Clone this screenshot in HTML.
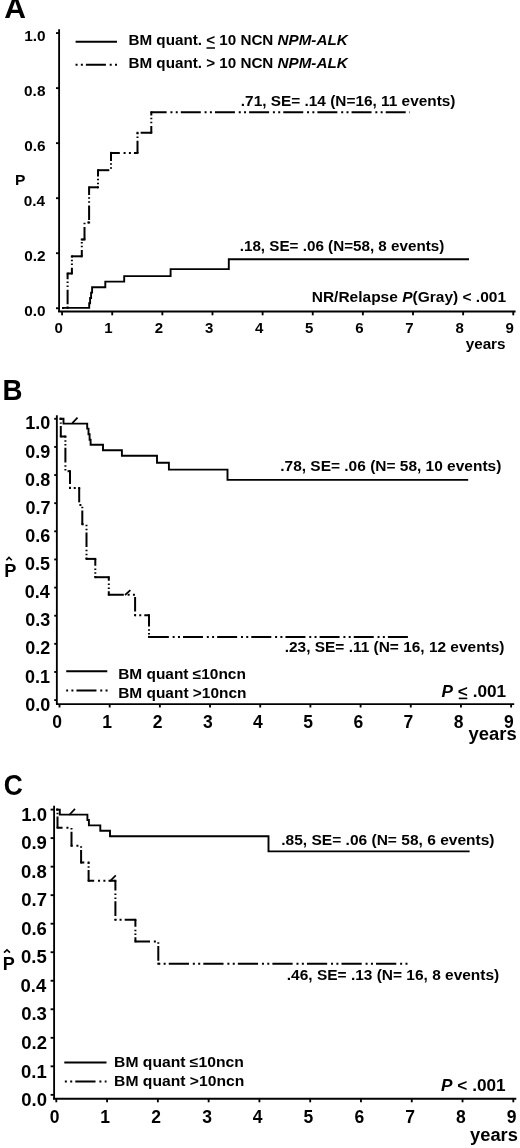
<!DOCTYPE html>
<html><head><meta charset="utf-8"><style>
html,body{margin:0;padding:0;background:#fff;}
svg{display:block;will-change:transform;}
text{font-family:"Liberation Sans",sans-serif;fill:#000;}
</style></head><body>
<svg width="520" height="1148" viewBox="0 0 520 1148">
<rect width="520" height="1148" fill="#fff"/>
<g stroke="#000" fill="none" stroke-linecap="butt">
<line x1="59.10" y1="29.30" x2="59.10" y2="312.00" stroke-width="1.85"/>
<line x1="56.00" y1="33.10" x2="59.10" y2="33.10" stroke-width="1.85"/>
<line x1="56.00" y1="88.13" x2="59.10" y2="88.13" stroke-width="1.85"/>
<line x1="56.00" y1="143.16" x2="59.10" y2="143.16" stroke-width="1.85"/>
<line x1="56.00" y1="198.19" x2="59.10" y2="198.19" stroke-width="1.85"/>
<line x1="56.00" y1="253.22" x2="59.10" y2="253.22" stroke-width="1.85"/>
<line x1="56.00" y1="308.25" x2="59.10" y2="308.25" stroke-width="1.85"/>
<line x1="58.10" y1="311.50" x2="515.60" y2="311.50" stroke-width="1.85"/>
<line x1="62.10" y1="311.50" x2="62.10" y2="315.30" stroke-width="1.85"/>
<line x1="112.23" y1="311.50" x2="112.23" y2="315.30" stroke-width="1.85"/>
<line x1="162.36" y1="311.50" x2="162.36" y2="315.30" stroke-width="1.85"/>
<line x1="212.49" y1="311.50" x2="212.49" y2="315.30" stroke-width="1.85"/>
<line x1="262.62" y1="311.50" x2="262.62" y2="315.30" stroke-width="1.85"/>
<line x1="312.75" y1="311.50" x2="312.75" y2="315.30" stroke-width="1.85"/>
<line x1="362.88" y1="311.50" x2="362.88" y2="315.30" stroke-width="1.85"/>
<line x1="413.01" y1="311.50" x2="413.01" y2="315.30" stroke-width="1.85"/>
<line x1="463.14" y1="311.50" x2="463.14" y2="315.30" stroke-width="1.85"/>
<line x1="513.27" y1="311.50" x2="513.27" y2="315.30" stroke-width="1.85"/>
<line x1="75.60" y1="41.70" x2="117.00" y2="41.70" stroke-width="2"/>
<line x1="206.50" y1="48.00" x2="215.00" y2="48.00" stroke-width="1.5"/>
<line x1="75.30" y1="64.80" x2="117.50" y2="64.80" stroke-width="2" stroke-dasharray="20.000 3.800 2.000 3.300 2.000 3.050" stroke-dashoffset="23.550"/>
<path d="M62.00,307.90 L89.20,307.90 L89.20,303.30 L90.10,303.30 L90.10,298.00 L91.10,298.00 L91.10,292.60 L92.10,292.60 L92.10,287.20 L105.30,287.20 L105.30,281.60 L124.20,281.60 L124.20,276.10 L170.60,276.10 L170.60,269.10 L228.80,269.10 L228.80,259.20 L469.00,259.20" stroke-width="1.9" fill="none" stroke-linejoin="miter"/>
<line x1="62.00" y1="307.90" x2="67.60" y2="307.90" stroke-width="2" stroke-dasharray="20.000 3.800 2.000 3.300 2.000 3.050" stroke-dashoffset="23.650"/>
<line x1="67.60" y1="307.90" x2="67.60" y2="273.50" stroke-width="2" stroke-dasharray="14.640 2.782 1.464 2.416 1.464 2.233" stroke-dashoffset="21.411"/>
<line x1="67.60" y1="273.50" x2="71.90" y2="273.50" stroke-width="2" stroke-dasharray="20.000 3.800 2.000 3.300 2.000 3.050" stroke-dashoffset="7.945"/>
<line x1="71.90" y1="273.50" x2="71.90" y2="256.30" stroke-width="2" stroke-dasharray="14.640 2.782 1.464 2.416 1.464 2.233" stroke-dashoffset="8.963"/>
<line x1="71.90" y1="256.30" x2="81.80" y2="256.30" stroke-width="2" stroke-dasharray="20.000 3.800 2.000 3.300 2.000 3.050" stroke-dashoffset="1.592"/>
<line x1="81.80" y1="256.30" x2="81.80" y2="239.50" stroke-width="2" stroke-dasharray="14.640 2.782 1.464 2.416 1.464 2.233" stroke-dashoffset="8.412"/>
<line x1="81.80" y1="239.50" x2="84.50" y2="239.50" stroke-width="2" stroke-dasharray="20.000 3.800 2.000 3.300 2.000 3.050" stroke-dashoffset="0.293"/>
<line x1="84.50" y1="239.50" x2="84.50" y2="222.50" stroke-width="2" stroke-dasharray="14.640 2.782 1.464 2.416 1.464 2.233" stroke-dashoffset="2.191"/>
<line x1="84.50" y1="222.50" x2="89.10" y2="222.50" stroke-width="2" stroke-dasharray="20.000 3.800 2.000 3.300 2.000 3.050" stroke-dashoffset="26.217"/>
<line x1="89.10" y1="222.50" x2="89.10" y2="187.30" stroke-width="2" stroke-dasharray="14.640 2.782 1.464 2.416 1.464 2.233" stroke-dashoffset="22.558"/>
<line x1="89.10" y1="187.30" x2="98.00" y2="187.30" stroke-width="2" stroke-dasharray="20.000 3.800 2.000 3.300 2.000 3.050" stroke-dashoffset="10.604"/>
<line x1="98.00" y1="187.30" x2="98.00" y2="170.20" stroke-width="2" stroke-dasharray="14.640 2.782 1.464 2.416 1.464 2.233" stroke-dashoffset="14.277"/>
<line x1="98.00" y1="170.20" x2="111.00" y2="170.20" stroke-width="2" stroke-dasharray="20.000 3.800 2.000 3.300 2.000 3.050" stroke-dashoffset="8.715"/>
<line x1="111.00" y1="170.20" x2="111.00" y2="152.90" stroke-width="2" stroke-dasharray="14.640 2.782 1.464 2.416 1.464 2.233" stroke-dashoffset="15.895"/>
<line x1="111.00" y1="152.90" x2="137.50" y2="152.90" stroke-width="2" stroke-dasharray="20.000 3.800 2.000 3.300 2.000 3.050" stroke-dashoffset="11.199"/>
<line x1="137.50" y1="152.90" x2="137.50" y2="132.80" stroke-width="2" stroke-dasharray="14.640 2.782 1.464 2.416 1.464 2.233" stroke-dashoffset="2.598"/>
<line x1="137.50" y1="132.80" x2="151.30" y2="132.80" stroke-width="2" stroke-dasharray="20.000 3.800 2.000 3.300 2.000 3.050" stroke-dashoffset="31.008"/>
<line x1="151.30" y1="132.80" x2="151.30" y2="112.20" stroke-width="2" stroke-dasharray="14.640 2.782 1.464 2.416 1.464 2.233" stroke-dashoffset="7.802"/>
<line x1="151.30" y1="112.20" x2="410.00" y2="112.20" stroke-width="2" stroke-dasharray="20.000 3.800 2.000 3.300 2.000 3.050" stroke-dashoffset="4.650"/>
<rect x="66.60" y="306.90" width="2" height="2" fill="#000" stroke="none"/>
<rect x="66.60" y="272.50" width="2" height="2" fill="#000" stroke="none"/>
<rect x="70.90" y="272.50" width="2" height="2" fill="#000" stroke="none"/>
<rect x="70.90" y="255.30" width="2" height="2" fill="#000" stroke="none"/>
<rect x="80.80" y="255.30" width="2" height="2" fill="#000" stroke="none"/>
<rect x="80.80" y="238.50" width="2" height="2" fill="#000" stroke="none"/>
<rect x="83.50" y="238.50" width="2" height="2" fill="#000" stroke="none"/>
<rect x="88.10" y="221.50" width="2" height="2" fill="#000" stroke="none"/>
<rect x="88.10" y="186.30" width="2" height="2" fill="#000" stroke="none"/>
<rect x="97.00" y="186.30" width="2" height="2" fill="#000" stroke="none"/>
<rect x="97.00" y="169.20" width="2" height="2" fill="#000" stroke="none"/>
<rect x="110.00" y="151.90" width="2" height="2" fill="#000" stroke="none"/>
<rect x="136.50" y="151.90" width="2" height="2" fill="#000" stroke="none"/>
<rect x="136.50" y="131.80" width="2" height="2" fill="#000" stroke="none"/>
<rect x="150.30" y="131.80" width="2" height="2" fill="#000" stroke="none"/>
<rect x="150.30" y="111.20" width="2" height="2" fill="#000" stroke="none"/>
<line x1="56.85" y1="415.20" x2="56.85" y2="704.60" stroke-width="1.85"/>
<line x1="54.20" y1="418.80" x2="56.85" y2="418.80" stroke-width="1.85"/>
<line x1="54.20" y1="446.93" x2="56.85" y2="446.93" stroke-width="1.85"/>
<line x1="54.20" y1="475.06" x2="56.85" y2="475.06" stroke-width="1.85"/>
<line x1="54.20" y1="503.19" x2="56.85" y2="503.19" stroke-width="1.85"/>
<line x1="54.20" y1="531.32" x2="56.85" y2="531.32" stroke-width="1.85"/>
<line x1="54.20" y1="559.45" x2="56.85" y2="559.45" stroke-width="1.85"/>
<line x1="54.20" y1="587.58" x2="56.85" y2="587.58" stroke-width="1.85"/>
<line x1="54.20" y1="615.71" x2="56.85" y2="615.71" stroke-width="1.85"/>
<line x1="54.20" y1="643.84" x2="56.85" y2="643.84" stroke-width="1.85"/>
<line x1="54.20" y1="671.97" x2="56.85" y2="671.97" stroke-width="1.85"/>
<line x1="54.20" y1="700.10" x2="56.85" y2="700.10" stroke-width="1.85"/>
<line x1="56.00" y1="704.10" x2="514.20" y2="704.10" stroke-width="1.85"/>
<line x1="59.50" y1="704.10" x2="59.50" y2="707.50" stroke-width="1.85"/>
<line x1="109.68" y1="704.10" x2="109.68" y2="707.50" stroke-width="1.85"/>
<line x1="159.86" y1="704.10" x2="159.86" y2="707.50" stroke-width="1.85"/>
<line x1="210.04" y1="704.10" x2="210.04" y2="707.50" stroke-width="1.85"/>
<line x1="260.22" y1="704.10" x2="260.22" y2="707.50" stroke-width="1.85"/>
<line x1="310.40" y1="704.10" x2="310.40" y2="707.50" stroke-width="1.85"/>
<line x1="360.58" y1="704.10" x2="360.58" y2="707.50" stroke-width="1.85"/>
<line x1="410.76" y1="704.10" x2="410.76" y2="707.50" stroke-width="1.85"/>
<line x1="460.94" y1="704.10" x2="460.94" y2="707.50" stroke-width="1.85"/>
<line x1="511.12" y1="704.10" x2="511.12" y2="707.50" stroke-width="1.85"/>
<path d="M6.30,560.20 L9.00,557.40 L11.80,560.20" stroke-width="1.6" fill="none" stroke-linejoin="miter"/>
<line x1="66.20" y1="671.30" x2="107.30" y2="671.30" stroke-width="2"/>
<line x1="66.20" y1="690.40" x2="107.60" y2="690.40" stroke-width="2" stroke-dasharray="20.000 3.800 2.000 3.300 2.000 3.050" stroke-dashoffset="23.900"/>
<line x1="458.80" y1="698.40" x2="467.30" y2="698.40" stroke-width="1.6"/>
<path d="M59.50,418.80 L63.50,418.80 L63.50,423.60 L87.20,423.60 L87.20,428.60 L88.50,428.60 L88.50,434.20 L89.60,434.20 L89.60,439.70 L90.60,439.70 L90.60,444.70 L103.00,444.70 L103.00,450.20 L121.90,450.20 L121.90,455.80 L157.00,455.80 L157.00,462.80 L168.90,462.80 L168.90,469.60 L227.50,469.60 L227.50,479.90 L468.20,479.90" stroke-width="1.9" fill="none" stroke-linejoin="miter"/>
<line x1="59.50" y1="418.80" x2="60.80" y2="418.80" stroke-width="2" stroke-dasharray="20.000 3.800 2.000 3.300 2.000 3.050" stroke-dashoffset="22.906"/>
<line x1="60.80" y1="418.80" x2="60.80" y2="436.50" stroke-width="2" stroke-dasharray="14.660 2.785 1.466 2.419 1.466 2.236" stroke-dashoffset="17.743"/>
<line x1="60.80" y1="436.50" x2="65.40" y2="436.50" stroke-width="2" stroke-dasharray="20.000 3.800 2.000 3.300 2.000 3.050" stroke-dashoffset="14.203"/>
<line x1="65.40" y1="436.50" x2="65.40" y2="471.20" stroke-width="2" stroke-dasharray="14.660 2.785 1.466 2.419 1.466 2.236" stroke-dashoffset="13.783"/>
<line x1="65.40" y1="471.20" x2="70.00" y2="471.20" stroke-width="2" stroke-dasharray="20.000 3.800 2.000 3.300 2.000 3.050" stroke-dashoffset="31.993"/>
<line x1="70.00" y1="471.20" x2="70.00" y2="488.00" stroke-width="2" stroke-dasharray="14.660 2.785 1.466 2.419 1.466 2.236" stroke-dashoffset="1.790"/>
<line x1="70.00" y1="488.00" x2="79.20" y2="488.00" stroke-width="2" stroke-dasharray="20.000 3.800 2.000 3.300 2.000 3.050" stroke-dashoffset="25.362"/>
<line x1="79.20" y1="488.00" x2="79.20" y2="505.00" stroke-width="2" stroke-dasharray="14.660 2.785 1.466 2.419 1.466 2.236" stroke-dashoffset="0.302"/>
<line x1="79.20" y1="505.00" x2="82.30" y2="505.00" stroke-width="2" stroke-dasharray="20.000 3.800 2.000 3.300 2.000 3.050" stroke-dashoffset="23.605"/>
<line x1="82.30" y1="505.00" x2="82.30" y2="524.20" stroke-width="2" stroke-dasharray="14.660 2.785 1.466 2.419 1.466 2.236" stroke-dashoffset="19.574"/>
<line x1="82.30" y1="524.20" x2="86.50" y2="524.20" stroke-width="2" stroke-dasharray="20.000 3.800 2.000 3.300 2.000 3.050" stroke-dashoffset="18.748"/>
<line x1="86.50" y1="524.20" x2="86.50" y2="558.90" stroke-width="2" stroke-dasharray="14.660 2.785 1.466 2.419 1.466 2.236" stroke-dashoffset="16.821"/>
<line x1="86.50" y1="558.90" x2="95.30" y2="558.90" stroke-width="2" stroke-dasharray="20.000 3.800 2.000 3.300 2.000 3.050" stroke-dashoffset="1.988"/>
<line x1="95.30" y1="558.90" x2="95.30" y2="577.20" stroke-width="2" stroke-dasharray="14.660 2.785 1.466 2.419 1.466 2.236" stroke-dashoffset="7.908"/>
<line x1="95.30" y1="577.20" x2="108.80" y2="577.20" stroke-width="2" stroke-dasharray="20.000 3.800 2.000 3.300 2.000 3.050" stroke-dashoffset="1.604"/>
<line x1="108.80" y1="577.20" x2="108.80" y2="594.80" stroke-width="2" stroke-dasharray="14.660 2.785 1.466 2.419 1.466 2.236" stroke-dashoffset="11.071"/>
<line x1="108.80" y1="594.80" x2="135.10" y2="594.80" stroke-width="2" stroke-dasharray="20.000 3.800 2.000 3.300 2.000 3.050" stroke-dashoffset="4.965"/>
<line x1="135.10" y1="594.80" x2="135.10" y2="615.20" stroke-width="2" stroke-dasharray="14.660 2.785 1.466 2.419 1.466 2.236" stroke-dashoffset="22.917"/>
<line x1="135.10" y1="615.20" x2="149.00" y2="615.20" stroke-width="2" stroke-dasharray="20.000 3.800 2.000 3.300 2.000 3.050" stroke-dashoffset="24.946"/>
<line x1="149.00" y1="615.20" x2="149.00" y2="636.90" stroke-width="2" stroke-dasharray="14.660 2.785 1.466 2.419 1.466 2.236" stroke-dashoffset="3.442"/>
<line x1="149.00" y1="636.90" x2="408.00" y2="636.90" stroke-width="2" stroke-dasharray="20.000 3.800 2.000 3.300 2.000 3.050" stroke-dashoffset="0.150"/>
<rect x="59.80" y="417.80" width="2" height="2" fill="#000" stroke="none"/>
<rect x="59.80" y="435.50" width="2" height="2" fill="#000" stroke="none"/>
<rect x="64.40" y="435.50" width="2" height="2" fill="#000" stroke="none"/>
<rect x="69.00" y="470.20" width="2" height="2" fill="#000" stroke="none"/>
<rect x="69.00" y="487.00" width="2" height="2" fill="#000" stroke="none"/>
<rect x="78.20" y="487.00" width="2" height="2" fill="#000" stroke="none"/>
<rect x="81.30" y="523.20" width="2" height="2" fill="#000" stroke="none"/>
<rect x="85.50" y="557.90" width="2" height="2" fill="#000" stroke="none"/>
<rect x="94.30" y="557.90" width="2" height="2" fill="#000" stroke="none"/>
<rect x="94.30" y="576.20" width="2" height="2" fill="#000" stroke="none"/>
<rect x="107.80" y="576.20" width="2" height="2" fill="#000" stroke="none"/>
<rect x="107.80" y="593.80" width="2" height="2" fill="#000" stroke="none"/>
<rect x="134.10" y="614.20" width="2" height="2" fill="#000" stroke="none"/>
<rect x="148.00" y="614.20" width="2" height="2" fill="#000" stroke="none"/>
<rect x="148.00" y="635.90" width="2" height="2" fill="#000" stroke="none"/>
<line x1="72.30" y1="423.20" x2="77.50" y2="417.70" stroke-width="1.7"/>
<line x1="125.00" y1="595.00" x2="130.40" y2="590.20" stroke-width="1.7"/>
<line x1="54.10" y1="805.80" x2="54.10" y2="1099.20" stroke-width="1.85"/>
<line x1="50.60" y1="809.60" x2="54.10" y2="809.60" stroke-width="1.85"/>
<line x1="50.60" y1="838.12" x2="54.10" y2="838.12" stroke-width="1.85"/>
<line x1="50.60" y1="866.65" x2="54.10" y2="866.65" stroke-width="1.85"/>
<line x1="50.60" y1="895.17" x2="54.10" y2="895.17" stroke-width="1.85"/>
<line x1="50.60" y1="923.70" x2="54.10" y2="923.70" stroke-width="1.85"/>
<line x1="50.60" y1="952.23" x2="54.10" y2="952.23" stroke-width="1.85"/>
<line x1="50.60" y1="980.75" x2="54.10" y2="980.75" stroke-width="1.85"/>
<line x1="50.60" y1="1009.27" x2="54.10" y2="1009.27" stroke-width="1.85"/>
<line x1="50.60" y1="1037.80" x2="54.10" y2="1037.80" stroke-width="1.85"/>
<line x1="50.60" y1="1066.33" x2="54.10" y2="1066.33" stroke-width="1.85"/>
<line x1="50.60" y1="1094.85" x2="54.10" y2="1094.85" stroke-width="1.85"/>
<line x1="53.00" y1="1098.70" x2="516.30" y2="1098.70" stroke-width="1.85"/>
<line x1="56.30" y1="1098.70" x2="56.30" y2="1102.30" stroke-width="1.85"/>
<line x1="107.08" y1="1098.70" x2="107.08" y2="1102.30" stroke-width="1.85"/>
<line x1="157.86" y1="1098.70" x2="157.86" y2="1102.30" stroke-width="1.85"/>
<line x1="208.64" y1="1098.70" x2="208.64" y2="1102.30" stroke-width="1.85"/>
<line x1="259.42" y1="1098.70" x2="259.42" y2="1102.30" stroke-width="1.85"/>
<line x1="310.20" y1="1098.70" x2="310.20" y2="1102.30" stroke-width="1.85"/>
<line x1="360.98" y1="1098.70" x2="360.98" y2="1102.30" stroke-width="1.85"/>
<line x1="411.76" y1="1098.70" x2="411.76" y2="1102.30" stroke-width="1.85"/>
<line x1="462.54" y1="1098.70" x2="462.54" y2="1102.30" stroke-width="1.85"/>
<line x1="513.32" y1="1098.70" x2="513.32" y2="1102.30" stroke-width="1.85"/>
<path d="M4.00,952.70 L7.00,949.90 L10.00,952.70" stroke-width="1.6" fill="none" stroke-linejoin="miter"/>
<line x1="64.30" y1="1062.40" x2="106.50" y2="1062.40" stroke-width="2"/>
<line x1="64.30" y1="1081.60" x2="106.50" y2="1081.60" stroke-width="2" stroke-dasharray="20.234 3.844 2.023 3.339 2.023 3.086" stroke-dashoffset="23.550"/>
<path d="M56.30,809.60 L59.80,809.60 L59.80,814.60 L87.40,814.60 L87.40,820.00 L88.90,820.00 L88.90,825.40 L100.30,825.40 L100.30,830.80 L110.00,830.80 L110.00,836.20 L268.50,836.20 L268.50,851.40 L469.60,851.40" stroke-width="1.9" fill="none" stroke-linejoin="miter"/>
<line x1="56.30" y1="809.60" x2="57.50" y2="809.60" stroke-width="2" stroke-dasharray="20.234 3.844 2.023 3.339 2.023 3.086" stroke-dashoffset="23.955"/>
<line x1="57.50" y1="809.60" x2="57.50" y2="827.70" stroke-width="2" stroke-dasharray="14.912 2.833 1.491 2.461 1.491 2.274" stroke-dashoffset="18.539"/>
<line x1="57.50" y1="827.70" x2="71.50" y2="827.70" stroke-width="2" stroke-dasharray="20.234 3.844 2.023 3.339 2.023 3.086" stroke-dashoffset="15.165"/>
<line x1="71.50" y1="827.70" x2="71.50" y2="845.80" stroke-width="2" stroke-dasharray="14.912 2.833 1.491 2.461 1.491 2.274" stroke-dashoffset="21.494"/>
<line x1="71.50" y1="845.80" x2="81.10" y2="845.80" stroke-width="2" stroke-dasharray="20.234 3.844 2.023 3.339 2.023 3.086" stroke-dashoffset="19.174"/>
<line x1="81.10" y1="845.80" x2="81.10" y2="862.60" stroke-width="2" stroke-dasharray="14.912 2.833 1.491 2.461 1.491 2.274" stroke-dashoffset="21.206"/>
<line x1="81.10" y1="862.60" x2="88.60" y2="862.60" stroke-width="2" stroke-dasharray="20.234 3.844 2.023 3.339 2.023 3.086" stroke-dashoffset="17.020"/>
<line x1="88.60" y1="862.60" x2="88.60" y2="880.80" stroke-width="2" stroke-dasharray="14.912 2.833 1.491 2.461 1.491 2.274" stroke-dashoffset="18.071"/>
<line x1="88.60" y1="880.80" x2="115.40" y2="880.80" stroke-width="2" stroke-dasharray="20.234 3.844 2.023 3.339 2.023 3.086" stroke-dashoffset="14.665"/>
<line x1="115.40" y1="880.80" x2="115.40" y2="919.80" stroke-width="2" stroke-dasharray="14.912 2.833 1.491 2.461 1.491 2.274" stroke-dashoffset="5.096"/>
<line x1="115.40" y1="919.80" x2="135.40" y2="919.80" stroke-width="2" stroke-dasharray="20.234 3.844 2.023 3.339 2.023 3.086" stroke-dashoffset="25.283"/>
<line x1="135.40" y1="919.80" x2="135.40" y2="941.50" stroke-width="2" stroke-dasharray="14.912 2.833 1.491 2.461 1.491 2.274" stroke-dashoffset="7.910"/>
<line x1="135.40" y1="941.50" x2="158.30" y2="941.50" stroke-width="2" stroke-dasharray="20.234 3.844 2.023 3.339 2.023 3.086" stroke-dashoffset="5.627"/>
<line x1="158.30" y1="941.50" x2="158.30" y2="963.70" stroke-width="2" stroke-dasharray="14.912 2.833 1.491 2.461 1.491 2.274" stroke-dashoffset="21.025"/>
<line x1="158.30" y1="963.70" x2="410.00" y2="963.70" stroke-width="2" stroke-dasharray="20.234 3.844 2.023 3.339 2.023 3.086" stroke-dashoffset="24.100"/>
<rect x="56.50" y="808.60" width="2" height="2" fill="#000" stroke="none"/>
<rect x="56.50" y="826.70" width="2" height="2" fill="#000" stroke="none"/>
<rect x="70.50" y="844.80" width="2" height="2" fill="#000" stroke="none"/>
<rect x="80.10" y="861.60" width="2" height="2" fill="#000" stroke="none"/>
<rect x="87.60" y="861.60" width="2" height="2" fill="#000" stroke="none"/>
<rect x="87.60" y="879.80" width="2" height="2" fill="#000" stroke="none"/>
<rect x="114.40" y="879.80" width="2" height="2" fill="#000" stroke="none"/>
<rect x="114.40" y="918.80" width="2" height="2" fill="#000" stroke="none"/>
<rect x="134.40" y="918.80" width="2" height="2" fill="#000" stroke="none"/>
<rect x="134.40" y="940.50" width="2" height="2" fill="#000" stroke="none"/>
<rect x="157.30" y="962.70" width="2" height="2" fill="#000" stroke="none"/>
<line x1="69.20" y1="815.00" x2="75.00" y2="808.90" stroke-width="1.7"/>
<line x1="109.80" y1="881.40" x2="115.80" y2="875.40" stroke-width="1.7"/>
</g>
<g>
<text transform="translate(4.15,17.60) scale(1.0396,1)" font-size="29"><tspan font-weight="bold" font-style="normal">A</tspan></text>
<text transform="translate(24.22,41.00) scale(1.0400,1)" font-size="14.8"><tspan font-weight="bold" font-style="normal">1.0</tspan></text>
<text transform="translate(24.07,96.03) scale(1.0400,1)" font-size="14.8"><tspan font-weight="bold" font-style="normal">0.8</tspan></text>
<text transform="translate(24.14,151.06) scale(1.0400,1)" font-size="14.8"><tspan font-weight="bold" font-style="normal">0.6</tspan></text>
<text transform="translate(23.68,206.09) scale(1.0400,1)" font-size="14.8"><tspan font-weight="bold" font-style="normal">0.4</tspan></text>
<text transform="translate(24.22,261.12) scale(1.0400,1)" font-size="14.8"><tspan font-weight="bold" font-style="normal">0.2</tspan></text>
<text transform="translate(24.22,316.15) scale(1.0400,1)" font-size="14.8"><tspan font-weight="bold" font-style="normal">0.0</tspan></text>
<text transform="translate(54.44,332.80) scale(1.0000,1)" font-size="15"><tspan font-weight="bold" font-style="normal">0</tspan></text>
<text transform="translate(104.27,332.80) scale(1.0000,1)" font-size="15"><tspan font-weight="bold" font-style="normal">1</tspan></text>
<text transform="translate(154.74,332.80) scale(1.0000,1)" font-size="15"><tspan font-weight="bold" font-style="normal">2</tspan></text>
<text transform="translate(204.90,332.80) scale(1.0000,1)" font-size="15"><tspan font-weight="bold" font-style="normal">3</tspan></text>
<text transform="translate(254.88,332.80) scale(1.0000,1)" font-size="15"><tspan font-weight="bold" font-style="normal">4</tspan></text>
<text transform="translate(305.05,332.80) scale(1.0000,1)" font-size="15"><tspan font-weight="bold" font-style="normal">5</tspan></text>
<text transform="translate(355.22,332.80) scale(1.0000,1)" font-size="15"><tspan font-weight="bold" font-style="normal">6</tspan></text>
<text transform="translate(405.35,332.80) scale(1.0000,1)" font-size="15"><tspan font-weight="bold" font-style="normal">7</tspan></text>
<text transform="translate(455.48,332.80) scale(1.0000,1)" font-size="15"><tspan font-weight="bold" font-style="normal">8</tspan></text>
<text transform="translate(505.61,332.80) scale(1.0000,1)" font-size="15"><tspan font-weight="bold" font-style="normal">9</tspan></text>
<text transform="translate(14.89,184.80) scale(1.0074,1)" font-size="15.5"><tspan font-weight="bold" font-style="normal">P</tspan></text>
<text transform="translate(465.65,349.20) scale(1.0188,1)" font-size="15"><tspan font-weight="bold" font-style="normal">years</tspan></text>
<text transform="translate(128.51,45.20) scale(1.0711,1)" font-size="14.2"><tspan font-weight="bold" font-style="normal">BM quant. &lt; 10 NCN </tspan><tspan font-weight="bold" font-style="italic">NPM-ALK</tspan></text>
<text transform="translate(128.51,67.60) scale(1.0711,1)" font-size="14.2"><tspan font-weight="bold" font-style="normal">BM quant. &gt; 10 NCN </tspan><tspan font-weight="bold" font-style="italic">NPM-ALK</tspan></text>
<text transform="translate(240.82,106.30) scale(1.0997,1)" font-size="14"><tspan font-weight="bold" font-style="normal">.71, SE= .14 (N=16, 11 events)</tspan></text>
<text transform="translate(239.73,250.60) scale(1.0874,1)" font-size="14"><tspan font-weight="bold" font-style="normal">.18, SE= .06 (N=58, 8 events)</tspan></text>
<text transform="translate(311.69,302.20) scale(1.1079,1)" font-size="14"><tspan font-weight="bold" font-style="normal">NR/Relapse </tspan><tspan font-weight="bold" font-style="italic">P</tspan><tspan font-weight="bold" font-style="normal">(Gray) &lt; .001</tspan></text>
<text transform="translate(2.40,400.00) scale(0.9553,1)" font-size="29"><tspan font-weight="bold" font-style="normal">B</tspan></text>
<text transform="translate(25.30,429.40) scale(1.0000,1)" font-size="18"><tspan font-weight="bold" font-style="normal">1.0</tspan></text>
<text transform="translate(25.21,457.53) scale(1.0000,1)" font-size="18"><tspan font-weight="bold" font-style="normal">0.9</tspan></text>
<text transform="translate(25.12,485.66) scale(1.0000,1)" font-size="18"><tspan font-weight="bold" font-style="normal">0.8</tspan></text>
<text transform="translate(25.39,513.79) scale(1.0000,1)" font-size="18"><tspan font-weight="bold" font-style="normal">0.7</tspan></text>
<text transform="translate(25.21,541.92) scale(1.0000,1)" font-size="18"><tspan font-weight="bold" font-style="normal">0.6</tspan></text>
<text transform="translate(25.03,570.05) scale(1.0000,1)" font-size="18"><tspan font-weight="bold" font-style="normal">0.5</tspan></text>
<text transform="translate(24.67,598.18) scale(1.0000,1)" font-size="18"><tspan font-weight="bold" font-style="normal">0.4</tspan></text>
<text transform="translate(25.21,626.31) scale(1.0000,1)" font-size="18"><tspan font-weight="bold" font-style="normal">0.3</tspan></text>
<text transform="translate(25.30,654.44) scale(1.0000,1)" font-size="18"><tspan font-weight="bold" font-style="normal">0.2</tspan></text>
<text transform="translate(25.03,682.57) scale(1.0000,1)" font-size="18"><tspan font-weight="bold" font-style="normal">0.1</tspan></text>
<text transform="translate(25.30,710.70) scale(1.0000,1)" font-size="18"><tspan font-weight="bold" font-style="normal">0.0</tspan></text>
<text transform="translate(52.34,727.80) scale(1.0000,1)" font-size="17.5"><tspan font-weight="bold" font-style="normal">0</tspan></text>
<text transform="translate(102.17,727.80) scale(1.0000,1)" font-size="17.5"><tspan font-weight="bold" font-style="normal">1</tspan></text>
<text transform="translate(152.75,727.80) scale(1.0000,1)" font-size="17.5"><tspan font-weight="bold" font-style="normal">2</tspan></text>
<text transform="translate(202.97,727.80) scale(1.0000,1)" font-size="17.5"><tspan font-weight="bold" font-style="normal">3</tspan></text>
<text transform="translate(252.98,727.80) scale(1.0000,1)" font-size="17.5"><tspan font-weight="bold" font-style="normal">4</tspan></text>
<text transform="translate(303.20,727.80) scale(1.0000,1)" font-size="17.5"><tspan font-weight="bold" font-style="normal">5</tspan></text>
<text transform="translate(353.42,727.80) scale(1.0000,1)" font-size="17.5"><tspan font-weight="bold" font-style="normal">6</tspan></text>
<text transform="translate(403.60,727.80) scale(1.0000,1)" font-size="17.5"><tspan font-weight="bold" font-style="normal">7</tspan></text>
<text transform="translate(453.78,727.80) scale(1.0000,1)" font-size="17.5"><tspan font-weight="bold" font-style="normal">8</tspan></text>
<text transform="translate(503.96,727.80) scale(1.0000,1)" font-size="17.5"><tspan font-weight="bold" font-style="normal">9</tspan></text>
<text transform="translate(4.31,576.60) scale(1.0136,1)" font-size="18"><tspan font-weight="bold" font-style="normal">P</tspan></text>
<text transform="translate(468.52,739.70) scale(1.0245,1)" font-size="18"><tspan font-weight="bold" font-style="normal">years</tspan></text>
<text transform="translate(118.20,679.40) scale(1.0801,1)" font-size="14.3"><tspan font-weight="bold" font-style="normal">BM quant ≤10ncn</tspan></text>
<text transform="translate(118.20,698.20) scale(1.0806,1)" font-size="14.3"><tspan font-weight="bold" font-style="normal">BM quant &gt;10ncn</tspan></text>
<text transform="translate(441.56,696.60) scale(0.9964,1)" font-size="17.3"><tspan font-weight="bold" font-style="italic">P</tspan><tspan font-weight="bold" font-style="normal"> &lt; .001</tspan></text>
<text transform="translate(280.22,470.80) scale(1.1065,1)" font-size="14"><tspan font-weight="bold" font-style="normal">.78, SE= .06 (N= 58, 10 events)</tspan></text>
<text transform="translate(284.72,652.20) scale(1.1032,1)" font-size="14"><tspan font-weight="bold" font-style="normal">.23, SE= .11 (N= 16, 12 events)</tspan></text>
<text transform="translate(3.84,794.90) scale(0.8953,1)" font-size="29.5"><tspan font-weight="bold" font-style="normal">C</tspan></text>
<text transform="translate(21.23,820.80) scale(1.0000,1)" font-size="18.5"><tspan font-weight="bold" font-style="normal">1.0</tspan></text>
<text transform="translate(21.13,849.33) scale(1.0000,1)" font-size="18.5"><tspan font-weight="bold" font-style="normal">0.9</tspan></text>
<text transform="translate(21.04,877.85) scale(1.0000,1)" font-size="18.5"><tspan font-weight="bold" font-style="normal">0.8</tspan></text>
<text transform="translate(21.32,906.38) scale(1.0000,1)" font-size="18.5"><tspan font-weight="bold" font-style="normal">0.7</tspan></text>
<text transform="translate(21.13,934.90) scale(1.0000,1)" font-size="18.5"><tspan font-weight="bold" font-style="normal">0.6</tspan></text>
<text transform="translate(20.95,963.43) scale(1.0000,1)" font-size="18.5"><tspan font-weight="bold" font-style="normal">0.5</tspan></text>
<text transform="translate(20.58,991.95) scale(1.0000,1)" font-size="18.5"><tspan font-weight="bold" font-style="normal">0.4</tspan></text>
<text transform="translate(21.13,1020.48) scale(1.0000,1)" font-size="18.5"><tspan font-weight="bold" font-style="normal">0.3</tspan></text>
<text transform="translate(21.23,1049.00) scale(1.0000,1)" font-size="18.5"><tspan font-weight="bold" font-style="normal">0.2</tspan></text>
<text transform="translate(20.95,1077.53) scale(1.0000,1)" font-size="18.5"><tspan font-weight="bold" font-style="normal">0.1</tspan></text>
<text transform="translate(21.23,1106.05) scale(1.0000,1)" font-size="18.5"><tspan font-weight="bold" font-style="normal">0.0</tspan></text>
<text transform="translate(49.74,1123.00) scale(1.0000,1)" font-size="17.5"><tspan font-weight="bold" font-style="normal">0</tspan></text>
<text transform="translate(100.17,1123.00) scale(1.0000,1)" font-size="17.5"><tspan font-weight="bold" font-style="normal">1</tspan></text>
<text transform="translate(151.35,1123.00) scale(1.0000,1)" font-size="17.5"><tspan font-weight="bold" font-style="normal">2</tspan></text>
<text transform="translate(202.17,1123.00) scale(1.0000,1)" font-size="17.5"><tspan font-weight="bold" font-style="normal">3</tspan></text>
<text transform="translate(252.78,1123.00) scale(1.0000,1)" font-size="17.5"><tspan font-weight="bold" font-style="normal">4</tspan></text>
<text transform="translate(303.60,1123.00) scale(1.0000,1)" font-size="17.5"><tspan font-weight="bold" font-style="normal">5</tspan></text>
<text transform="translate(354.42,1123.00) scale(1.0000,1)" font-size="17.5"><tspan font-weight="bold" font-style="normal">6</tspan></text>
<text transform="translate(405.20,1123.00) scale(1.0000,1)" font-size="17.5"><tspan font-weight="bold" font-style="normal">7</tspan></text>
<text transform="translate(455.98,1123.00) scale(1.0000,1)" font-size="17.5"><tspan font-weight="bold" font-style="normal">8</tspan></text>
<text transform="translate(506.76,1123.00) scale(1.0000,1)" font-size="17.5"><tspan font-weight="bold" font-style="normal">9</tspan></text>
<text transform="translate(2.73,970.00) scale(0.9768,1)" font-size="18.5"><tspan font-weight="bold" font-style="normal">P</tspan></text>
<text transform="translate(470.02,1141.00) scale(1.0180,1)" font-size="18"><tspan font-weight="bold" font-style="normal">years</tspan></text>
<text transform="translate(114.08,1067.30) scale(1.0972,1)" font-size="14.3"><tspan font-weight="bold" font-style="normal">BM quant ≤10ncn</tspan></text>
<text transform="translate(114.08,1085.60) scale(1.0968,1)" font-size="14.3"><tspan font-weight="bold" font-style="normal">BM quant &gt;10ncn</tspan></text>
<text transform="translate(441.06,1091.20) scale(0.9948,1)" font-size="17.3"><tspan font-weight="bold" font-style="italic">P</tspan><tspan font-weight="bold" font-style="normal"> &lt; .001</tspan></text>
<text transform="translate(281.21,845.30) scale(1.1111,1)" font-size="14"><tspan font-weight="bold" font-style="normal">.85, SE= .06 (N= 58, 6 events)</tspan></text>
<text transform="translate(286.82,980.40) scale(1.1053,1)" font-size="14"><tspan font-weight="bold" font-style="normal">.46, SE= .13 (N= 16, 8 events)</tspan></text>
</g>
</svg>
</body></html>
